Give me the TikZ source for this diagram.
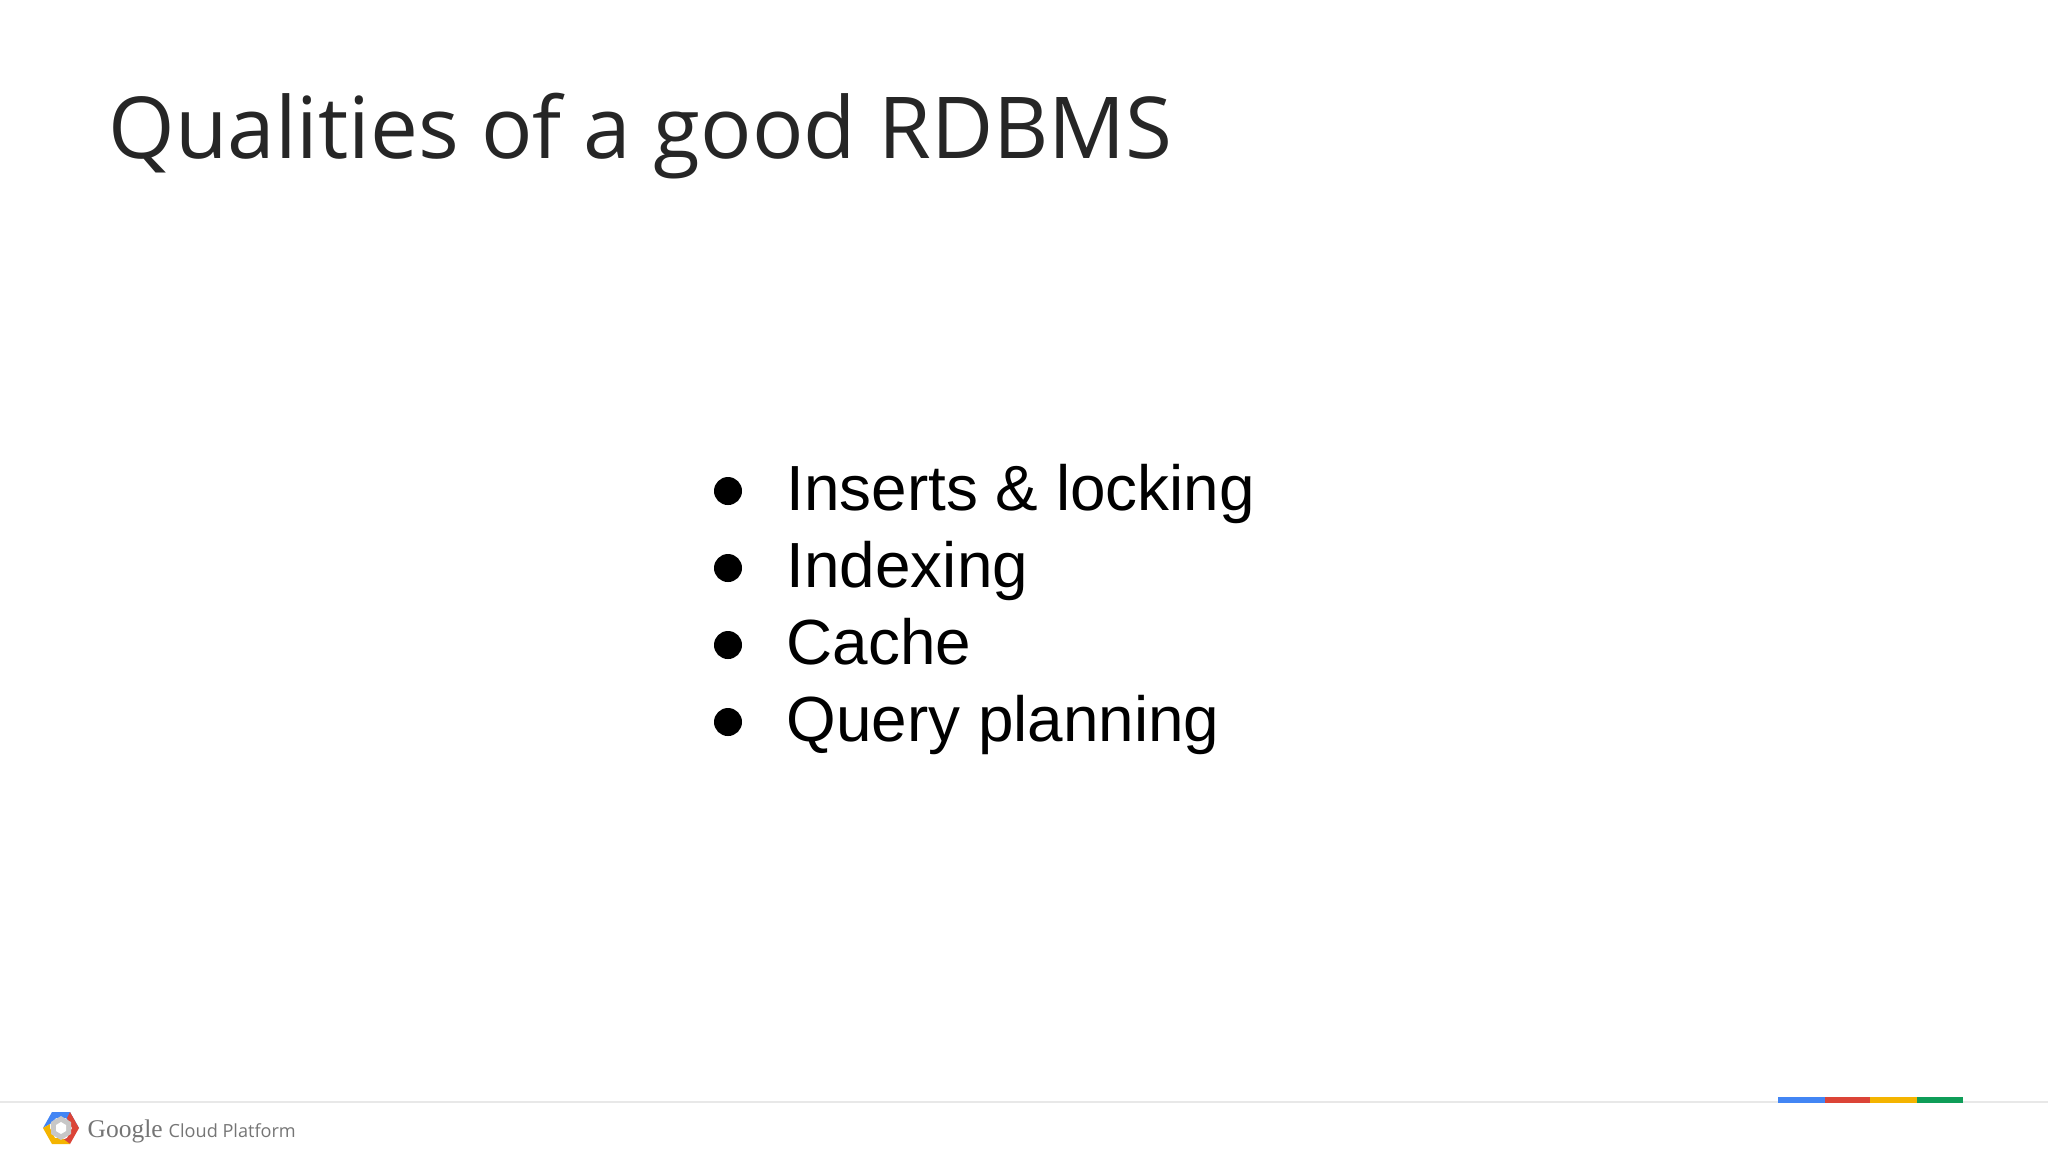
\documentclass[tikz,border=0pt]{standalone}
\usepackage{fontspec}
\setmainfont{Liberation Sans}
\newfontfamily\titlefont{Open Sans}
\newfontfamily\logofont{Liberation Serif}
\usetikzlibrary{positioning}
\definecolor{titlegray}{HTML}{262626}
\definecolor{rulegray}{HTML}{E8E8E8}
\definecolor{logogray}{HTML}{757575}
\definecolor{gblue}{HTML}{4285F4}
\definecolor{gred}{HTML}{DB4437}
\definecolor{gyellow}{HTML}{F4B400}
\definecolor{ggreen}{HTML}{0F9D58}

\begin{document}
\begin{tikzpicture}[
    x=0.01cm, y=-0.01cm,
    heading/.style={anchor=base west, inner sep=0, text=titlegray, font=\titlefont\fontsize{24.3pt}{30pt}\selectfont},
    item/.style={anchor=base west, inner sep=0, text=black, font=\fontsize{18.15pt}{22pt}\selectfont},
    dot/.style={circle, fill=black, inner sep=0, minimum size=0.28cm},
    barpart/.style={rectangle, inner sep=0, minimum height=0.06cm, anchor=north west},
    rule/.style={draw=rulegray, line width=0.02cm},
    brand/.style={anchor=base west, inner sep=0, text=logogray}
]
\useasboundingbox (0,0) rectangle (2048,1153);

% Title
\node[heading] (title) at (108,158) {Qualities of a good RDBMS};

% Bullet list
\node[dot] (dot1) at (728,491) {};
\node[dot] (dot2) at (728,568) {};
\node[dot] (dot3) at (728,645) {};
\node[dot] (dot4) at (728,722) {};
\node[item] (inserts) at (786,510) {Inserts \& locking};
\node[item] (indexing) at (786,587) {Indexing};
\node[item] (cache) at (786,664) {Cache};
\node[item] (query) at (786,741) {Query planning};

% Footer rule
\coordinate (ruleL) at (0,1102);
\coordinate (ruleR) at (2048,1102);
\draw[rule] (ruleL) -- (ruleR);

% Colour bar
\node[barpart, fill=gblue, minimum width=0.47cm] (barblue) at (1777,1096) {};
\node[barpart, fill=gred, minimum width=0.45cm] (barred) at (1824,1096) {};
\node[barpart, fill=gyellow, minimum width=0.47cm] (baryellow) at (1869,1096) {};
\node[barpart, fill=ggreen, minimum width=0.46cm] (bargreen) at (1916,1096) {};

% Logo
\fill[gblue] (52,1112) -- (70,1112) -- (79,1128) -- (71,1124) -- (66,1118) -- (56,1118) -- (50,1124) -- (43,1128) -- cycle;
\fill[gred] (79,1128) -- (70,1144) -- (62,1140) -- (67,1138) -- (72,1128) -- (67,1118) -- (70,1112) -- cycle;
\fill[gyellow] (43,1128) -- (52,1144) -- (70,1144) -- (62,1138) -- (55,1138) -- (50,1128) -- (50,1124) -- cycle;
\fill[black!22] (61,1116) -- (71,1122) -- (71,1134) -- (61,1140) -- (51,1134) -- (51,1122) -- cycle;
\fill[white] (61,1122) -- (66,1125) -- (66,1131) -- (61,1134) -- (56,1131) -- (56,1125) -- cycle;
\node[brand, font=\logofont\fontsize{7.25pt}{9pt}\selectfont] (google) at (87,1137) {Google};
\node[brand, font=\titlefont\fontsize{5.15pt}{7pt}\selectfont] (platform) at (168,1137) {Cloud Platform};

\end{tikzpicture}
\end{document}
